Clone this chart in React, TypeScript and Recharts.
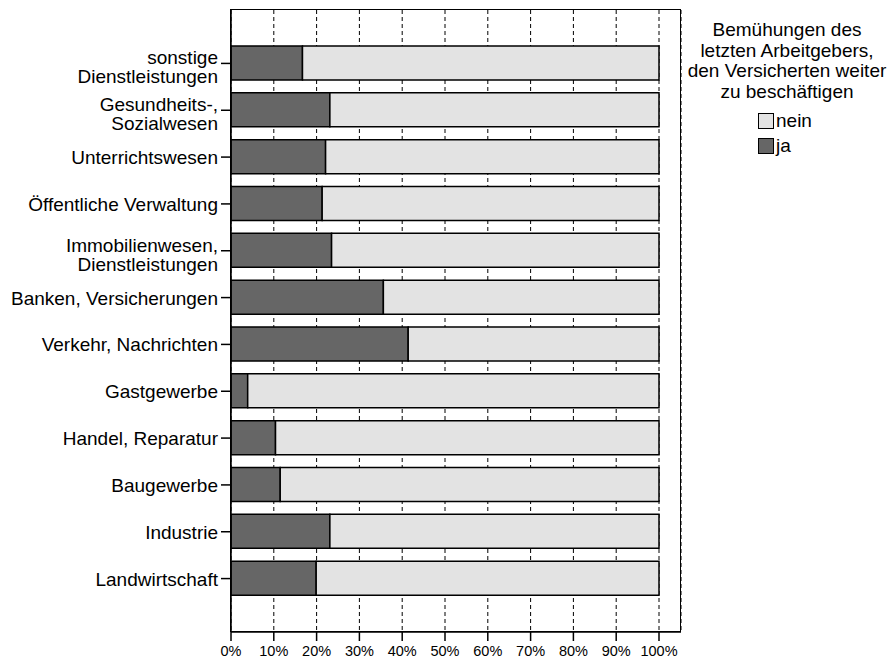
import React from 'react';
import { BarChart, Bar, XAxis, YAxis, CartesianGrid } from 'recharts';

const branchen = [
  'sonstige\nDienstleistungen',
  'Gesundheits-,\nSozialwesen',
  'Unterrichtswesen',
  'Öffentliche Verwaltung',
  'Immobilienwesen,\nDienstleistungen',
  'Banken, Versicherungen',
  'Verkehr, Nachrichten',
  'Gastgewerbe',
  'Handel, Reparatur',
  'Baugewerbe',
  'Industrie',
  'Landwirtschaft',
];
const jaWerte = [16.7, 23.1, 22.1, 21.3, 23.5, 35.6, 41.4, 3.9, 10.4, 11.5, 23.1, 19.9];
const neinWerte = [83.3, 76.9, 77.9, 78.7, 76.5, 64.4, 58.6, 96.1, 89.6, 88.5, 76.9, 80.1];
const xTicks = [0, 10, 20, 30, 40, 50, 60, 70, 80, 90, 100];
const legendTitle = ['Bemühungen des', 'letzten Arbeitgebers,', 'den Versicherten weiter', 'zu beschäftigen'];

const data = branchen.map((name, i) => ({ name, ja: jaWerte[i], nein: neinWerte[i] }));

const FONT = '"Liberation Sans", Arial, sans-serif';
const DARK = '#666666';
const LIGHT = '#e3e3e3';
const LABEL_SIZE = 19;

const YTick = (props: any) => {
  const { x, y, payload } = props;
  const lines = String(payload.value).split('\n');
  if (lines.length === 1) {
    return (
      <text x={x} y={y + 7} textAnchor="end" fontSize={LABEL_SIZE} fill="#000" fontFamily={FONT}>
        {lines[0]}
      </text>
    );
  }
  return (
    <text x={x} y={y + 1} textAnchor="end" fontSize={LABEL_SIZE} fill="#000" fontFamily={FONT}>
      {lines.map((l, i) => (
        <tspan key={i} x={x} dy={i === 0 ? 0 : 19}>
          {l}
        </tspan>
      ))}
    </text>
  );
};

export default function App() {
  return (
    <div style={{ position: 'absolute', left: 0, top: 0, width: 889, height: 659, fontFamily: FONT, background: '#fff' }}>
      <BarChart
        width={889}
        height={659}
        data={data}
        layout="vertical"
        margin={{ top: 10, right: 208, bottom: 0, left: 0 }}
        barSize={34}
      >
        <CartesianGrid horizontal={false} stroke="#000" strokeDasharray="4 3" />
        <XAxis
          type="number"
          domain={[0, 105.14]}
          allowDataOverflow
          ticks={xTicks}
          tickFormatter={(v) => `${v}%`}
          height={27}
          tickSize={9}
          tickMargin={5}
          tick={{ fontSize: 14.5, fill: '#000', fontFamily: FONT }}
          axisLine={{ stroke: '#000', strokeWidth: 1.5 }}
          tickLine={{ stroke: '#000', strokeWidth: 1.5 }}
        />
        <YAxis
          type="category"
          dataKey="name"
          width={231}
          padding={{ top: 30, bottom: 30 }}
          tickSize={10}
          tickMargin={3}
          tick={<YTick />}
          interval={0}
          axisLine={{ stroke: '#000', strokeWidth: 1.5 }}
          tickLine={{ stroke: '#000', strokeWidth: 1.5 }}
        />
        <Bar dataKey="ja" stackId="a" fill={DARK} stroke="#000" strokeWidth={1.5} isAnimationActive={false} />
        <Bar dataKey="nein" stackId="a" fill={LIGHT} stroke="#000" strokeWidth={1.5} isAnimationActive={false} />
      </BarChart>

      {/* frame around the plot panel */}
      <div
        style={{
          position: 'absolute',
          left: 230,
          top: 9,
          width: 449,
          height: 621,
          border: '1.5px solid #000',
          pointerEvents: 'none',
        }}
      />

      <div
        style={{
          position: 'absolute',
          left: 686,
          top: 20,
          width: 202,
          textAlign: 'center',
          fontSize: LABEL_SIZE,
          lineHeight: '20.5px',
          color: '#000',
        }}
      >
        {legendTitle.map((t) => (
          <div key={t}>{t}</div>
        ))}
      </div>
      <div style={{ position: 'absolute', left: 758, top: 112, fontSize: LABEL_SIZE, color: '#000' }}>
        {[
          { label: 'nein', color: LIGHT },
          { label: 'ja', color: DARK },
        ].map((it) => (
          <div key={it.label} style={{ display: 'flex', alignItems: 'center', height: 17, marginBottom: 8, lineHeight: '17px' }}>
            <span
              style={{
                display: 'inline-block',
                width: 14,
                height: 14,
                background: it.color,
                border: '1.5px solid #000',
                marginRight: 2,
              }}
            />
            <span>{it.label}</span>
          </div>
        ))}
      </div>
    </div>
  );
}
